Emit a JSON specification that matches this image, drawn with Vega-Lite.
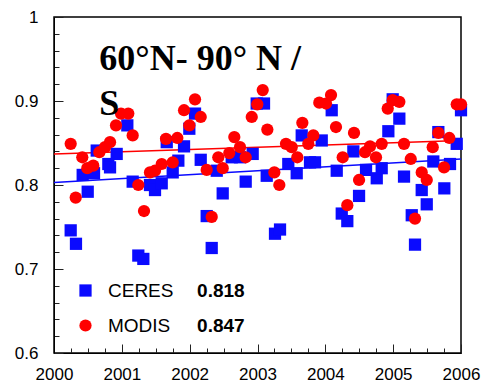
{
  "$schema": "https://vega.github.io/schema/vega-lite/v6.json",
  "width": 407,
  "height": 336,
  "autosize": {"type": "none"},
  "padding": {"left": 54, "top": 17, "right": 21, "bottom": 29},
  "config": {
    "view": {"stroke": "#000000", "strokeWidth": 1.5},
    "font": "Liberation Sans",
    "axis": {"grid": false, "tickColor": "#222222", "domainColor": "#000000", "labelColor": "#000000", "labelFont": "Liberation Sans", "labelFontSize": 17, "title": null, "labelFlush": false, "labelBound": false, "labelOverlap": false}
  },
  "datasets": {
    "obs": [
      {"series": "CERES", "year": 2000.246, "value": 0.746},
      {"series": "CERES", "year": 2000.324, "value": 0.730},
      {"series": "CERES", "year": 2000.423, "value": 0.812},
      {"series": "CERES", "year": 2000.497, "value": 0.792},
      {"series": "CERES", "year": 2000.590, "value": 0.814},
      {"series": "CERES", "year": 2000.630, "value": 0.841},
      {"series": "CERES", "year": 2000.801, "value": 0.825},
      {"series": "CERES", "year": 2000.826, "value": 0.821},
      {"series": "CERES", "year": 2000.924, "value": 0.837},
      {"series": "CERES", "year": 2001.081, "value": 0.871},
      {"series": "CERES", "year": 2001.160, "value": 0.804},
      {"series": "CERES", "year": 2001.243, "value": 0.716},
      {"series": "CERES", "year": 2001.317, "value": 0.712},
      {"series": "CERES", "year": 2001.415, "value": 0.800},
      {"series": "CERES", "year": 2001.489, "value": 0.794},
      {"series": "CERES", "year": 2001.588, "value": 0.802},
      {"series": "CERES", "year": 2001.662, "value": 0.851},
      {"series": "CERES", "year": 2001.750, "value": 0.815},
      {"series": "CERES", "year": 2001.833, "value": 0.829},
      {"series": "CERES", "year": 2001.917, "value": 0.846},
      {"series": "CERES", "year": 2001.995, "value": 0.867},
      {"series": "CERES", "year": 2002.079, "value": 0.885},
      {"series": "CERES", "year": 2002.163, "value": 0.830},
      {"series": "CERES", "year": 2002.251, "value": 0.763},
      {"series": "CERES", "year": 2002.325, "value": 0.725},
      {"series": "CERES", "year": 2002.399, "value": 0.817},
      {"series": "CERES", "year": 2002.487, "value": 0.790},
      {"series": "CERES", "year": 2002.620, "value": 0.833},
      {"series": "CERES", "year": 2002.742, "value": 0.833},
      {"series": "CERES", "year": 2002.826, "value": 0.804},
      {"series": "CERES", "year": 2002.929, "value": 0.837},
      {"series": "CERES", "year": 2002.988, "value": 0.897},
      {"series": "CERES", "year": 2003.096, "value": 0.897},
      {"series": "CERES", "year": 2003.136, "value": 0.811},
      {"series": "CERES", "year": 2003.258, "value": 0.742},
      {"series": "CERES", "year": 2003.332, "value": 0.747},
      {"series": "CERES", "year": 2003.454, "value": 0.825},
      {"series": "CERES", "year": 2003.578, "value": 0.814},
      {"series": "CERES", "year": 2003.652, "value": 0.859},
      {"series": "CERES", "year": 2003.774, "value": 0.827},
      {"series": "CERES", "year": 2003.848, "value": 0.827},
      {"series": "CERES", "year": 2003.947, "value": 0.853},
      {"series": "CERES", "year": 2004.094, "value": 0.889},
      {"series": "CERES", "year": 2004.168, "value": 0.817},
      {"series": "CERES", "year": 2004.242, "value": 0.766},
      {"series": "CERES", "year": 2004.324, "value": 0.757},
      {"series": "CERES", "year": 2004.413, "value": 0.840},
      {"series": "CERES", "year": 2004.497, "value": 0.787},
      {"series": "CERES", "year": 2004.600, "value": 0.818},
      {"series": "CERES", "year": 2004.758, "value": 0.808},
      {"series": "CERES", "year": 2004.831, "value": 0.820},
      {"series": "CERES", "year": 2004.929, "value": 0.864},
      {"series": "CERES", "year": 2004.993, "value": 0.902},
      {"series": "CERES", "year": 2005.091, "value": 0.879},
      {"series": "CERES", "year": 2005.160, "value": 0.810},
      {"series": "CERES", "year": 2005.274, "value": 0.764},
      {"series": "CERES", "year": 2005.322, "value": 0.729},
      {"series": "CERES", "year": 2005.421, "value": 0.794},
      {"series": "CERES", "year": 2005.495, "value": 0.777},
      {"series": "CERES", "year": 2005.592, "value": 0.828},
      {"series": "CERES", "year": 2005.666, "value": 0.863},
      {"series": "CERES", "year": 2005.754, "value": 0.796},
      {"series": "CERES", "year": 2005.838, "value": 0.825},
      {"series": "CERES", "year": 2005.937, "value": 0.849},
      {"series": "CERES", "year": 2006.000, "value": 0.889},
      {"series": "MODIS", "year": 2000.246, "value": 0.849},
      {"series": "MODIS", "year": 2000.320, "value": 0.785},
      {"series": "MODIS", "year": 2000.417, "value": 0.833},
      {"series": "MODIS", "year": 2000.491, "value": 0.820},
      {"series": "MODIS", "year": 2000.579, "value": 0.823},
      {"series": "MODIS", "year": 2000.668, "value": 0.839},
      {"series": "MODIS", "year": 2000.752, "value": 0.845},
      {"series": "MODIS", "year": 2000.826, "value": 0.851},
      {"series": "MODIS", "year": 2000.914, "value": 0.871},
      {"series": "MODIS", "year": 2000.988, "value": 0.885},
      {"series": "MODIS", "year": 2001.095, "value": 0.885},
      {"series": "MODIS", "year": 2001.160, "value": 0.859},
      {"series": "MODIS", "year": 2001.243, "value": 0.800},
      {"series": "MODIS", "year": 2001.327, "value": 0.769},
      {"series": "MODIS", "year": 2001.415, "value": 0.815},
      {"series": "MODIS", "year": 2001.489, "value": 0.817},
      {"series": "MODIS", "year": 2001.588, "value": 0.825},
      {"series": "MODIS", "year": 2001.651, "value": 0.855},
      {"series": "MODIS", "year": 2001.750, "value": 0.827},
      {"series": "MODIS", "year": 2001.818, "value": 0.856},
      {"series": "MODIS", "year": 2001.917, "value": 0.889},
      {"series": "MODIS", "year": 2001.995, "value": 0.871},
      {"series": "MODIS", "year": 2002.079, "value": 0.902},
      {"series": "MODIS", "year": 2002.163, "value": 0.881},
      {"series": "MODIS", "year": 2002.251, "value": 0.818},
      {"series": "MODIS", "year": 2002.325, "value": 0.762},
      {"series": "MODIS", "year": 2002.422, "value": 0.833},
      {"series": "MODIS", "year": 2002.487, "value": 0.820},
      {"series": "MODIS", "year": 2002.584, "value": 0.838},
      {"series": "MODIS", "year": 2002.658, "value": 0.857},
      {"series": "MODIS", "year": 2002.742, "value": 0.845},
      {"series": "MODIS", "year": 2002.826, "value": 0.833},
      {"series": "MODIS", "year": 2002.915, "value": 0.881},
      {"series": "MODIS", "year": 2002.997, "value": 0.896},
      {"series": "MODIS", "year": 2003.077, "value": 0.913},
      {"series": "MODIS", "year": 2003.145, "value": 0.866},
      {"series": "MODIS", "year": 2003.248, "value": 0.815},
      {"series": "MODIS", "year": 2003.322, "value": 0.800},
      {"series": "MODIS", "year": 2003.420, "value": 0.849},
      {"series": "MODIS", "year": 2003.504, "value": 0.845},
      {"series": "MODIS", "year": 2003.587, "value": 0.833},
      {"series": "MODIS", "year": 2003.661, "value": 0.874},
      {"series": "MODIS", "year": 2003.749, "value": 0.849},
      {"series": "MODIS", "year": 2003.823, "value": 0.859},
      {"series": "MODIS", "year": 2003.911, "value": 0.898},
      {"series": "MODIS", "year": 2004.010, "value": 0.897},
      {"series": "MODIS", "year": 2004.084, "value": 0.907},
      {"series": "MODIS", "year": 2004.157, "value": 0.869},
      {"series": "MODIS", "year": 2004.256, "value": 0.833},
      {"series": "MODIS", "year": 2004.324, "value": 0.776},
      {"series": "MODIS", "year": 2004.423, "value": 0.862},
      {"series": "MODIS", "year": 2004.497, "value": 0.806},
      {"series": "MODIS", "year": 2004.585, "value": 0.839},
      {"series": "MODIS", "year": 2004.659, "value": 0.846},
      {"series": "MODIS", "year": 2004.747, "value": 0.833},
      {"series": "MODIS", "year": 2004.831, "value": 0.849},
      {"series": "MODIS", "year": 2004.920, "value": 0.891},
      {"series": "MODIS", "year": 2004.993, "value": 0.901},
      {"series": "MODIS", "year": 2005.091, "value": 0.899},
      {"series": "MODIS", "year": 2005.160, "value": 0.849},
      {"series": "MODIS", "year": 2005.259, "value": 0.831},
      {"series": "MODIS", "year": 2005.322, "value": 0.760},
      {"series": "MODIS", "year": 2005.421, "value": 0.815},
      {"series": "MODIS", "year": 2005.495, "value": 0.806},
      {"series": "MODIS", "year": 2005.583, "value": 0.845},
      {"series": "MODIS", "year": 2005.666, "value": 0.862},
      {"series": "MODIS", "year": 2005.750, "value": 0.821},
      {"series": "MODIS", "year": 2005.828, "value": 0.856},
      {"series": "MODIS", "year": 2005.937, "value": 0.896},
      {"series": "MODIS", "year": 2006.000, "value": 0.896}
    ],
    "trend": [
      {"series": "CERES", "year": 2000, "value": 0.803},
      {"series": "CERES", "year": 2006, "value": 0.831},
      {"series": "MODIS", "year": 2000, "value": 0.837},
      {"series": "MODIS", "year": 2006, "value": 0.853}
    ]
  },
  "resolve": {"axis": {"x": "independent", "y": "independent"}},
  "layer": [
    {
      "data": {"name": "trend"},
      "transform": [{"filter": "datum.series === 'CERES'"}],
      "mark": {"type": "line", "strokeWidth": 1.5, "color": "#0a0aff"},
      "encoding": {
        "x": {"field": "year", "type": "quantitative", "scale": {"domain": [2000, 2006], "nice": false, "zero": false},
              "axis": {"orient": "bottom", "values": [2000.25, 2000.5, 2000.75, 2001.25, 2001.5, 2001.75, 2002.25, 2002.5, 2002.75, 2003.25, 2003.5, 2003.75, 2004.25, 2004.5, 2004.75, 2005.25, 2005.5, 2005.75], "labels": false, "domain": false, "tickSize": -5}},
        "y": {"field": "value", "type": "quantitative", "scale": {"domain": [0.6, 1], "nice": false, "zero": false},
              "axis": {"orient": "left", "values": [0.62, 0.64, 0.66, 0.68, 0.72, 0.74, 0.76, 0.78, 0.82, 0.84, 0.86, 0.88, 0.92, 0.94, 0.96, 0.98], "labels": false, "domain": false, "tickSize": -5}}
      }
    },
    {
      "data": {"name": "trend"},
      "transform": [{"filter": "datum.series === 'MODIS'"}],
      "mark": {"type": "line", "strokeWidth": 1.5, "color": "#ff0000"},
      "encoding": {
        "x": {"field": "year", "type": "quantitative", "axis": null},
        "y": {"field": "value", "type": "quantitative", "axis": null}
      }
    },
    {
      "data": {"name": "obs"},
      "mark": {"type": "point", "filled": true, "opacity": 1, "size": 150},
      "encoding": {
        "x": {"field": "year", "type": "quantitative",
              "axis": {"orient": "bottom", "values": [2000, 2001, 2002, 2003, 2004, 2005, 2006], "format": "d", "tickSize": -9, "labelPadding": 22}},
        "y": {"field": "value", "type": "quantitative",
              "axis": {"orient": "left", "values": [0.6, 0.7, 0.8, 0.9, 1.0], "format": ".1~f", "tickSize": -9, "labelPadding": 25}},
        "color": {"field": "series", "type": "nominal", "scale": {"domain": ["CERES", "MODIS"], "range": ["#0a0aff", "#ff0000"]},
                  "legend": {"orient": "none", "legendX": 22, "legendY": 264, "title": null, "labelFont": "Liberation Sans", "labelFontSize": 19, "labelColor": "#000000", "labelOffset": 13, "rowPadding": 15, "symbolSize": 150, "symbolStrokeWidth": 0}},
        "shape": {"field": "series", "type": "nominal", "scale": {"domain": ["CERES", "MODIS"], "range": ["square", "circle"]}}
      }
    },
    {
      "data": {"values": [{}]},
      "mark": {"type": "text", "text": "0.818", "align": "left", "baseline": "middle", "font": "Liberation Sans", "fontWeight": "bold", "fontSize": 19, "color": "#000000"},
      "encoding": {
        "x": {"datum": 2002.109, "type": "quantitative", "axis": null},
        "y": {"datum": 0.6735, "type": "quantitative", "axis": null}
      }
    },
    {
      "data": {"values": [{}]},
      "mark": {"type": "text", "text": "0.847", "align": "left", "baseline": "middle", "font": "Liberation Sans", "fontWeight": "bold", "fontSize": 19, "color": "#000000"},
      "encoding": {
        "x": {"datum": 2002.109, "type": "quantitative", "axis": null},
        "y": {"datum": 0.6325, "type": "quantitative", "axis": null}
      }
    },
    {
      "data": {"values": [{}]},
      "mark": {"type": "text", "text": ["60°N- 90° N /", "S"], "align": "left", "baseline": "alphabetic", "font": "Liberation Serif", "fontWeight": "bold", "fontSize": 36, "lineHeight": 45, "color": "#000000"},
      "encoding": {
        "x": {"datum": 2000.668, "type": "quantitative", "axis": null},
        "y": {"datum": 0.937, "type": "quantitative", "axis": null}
      }
    }
  ]
}
